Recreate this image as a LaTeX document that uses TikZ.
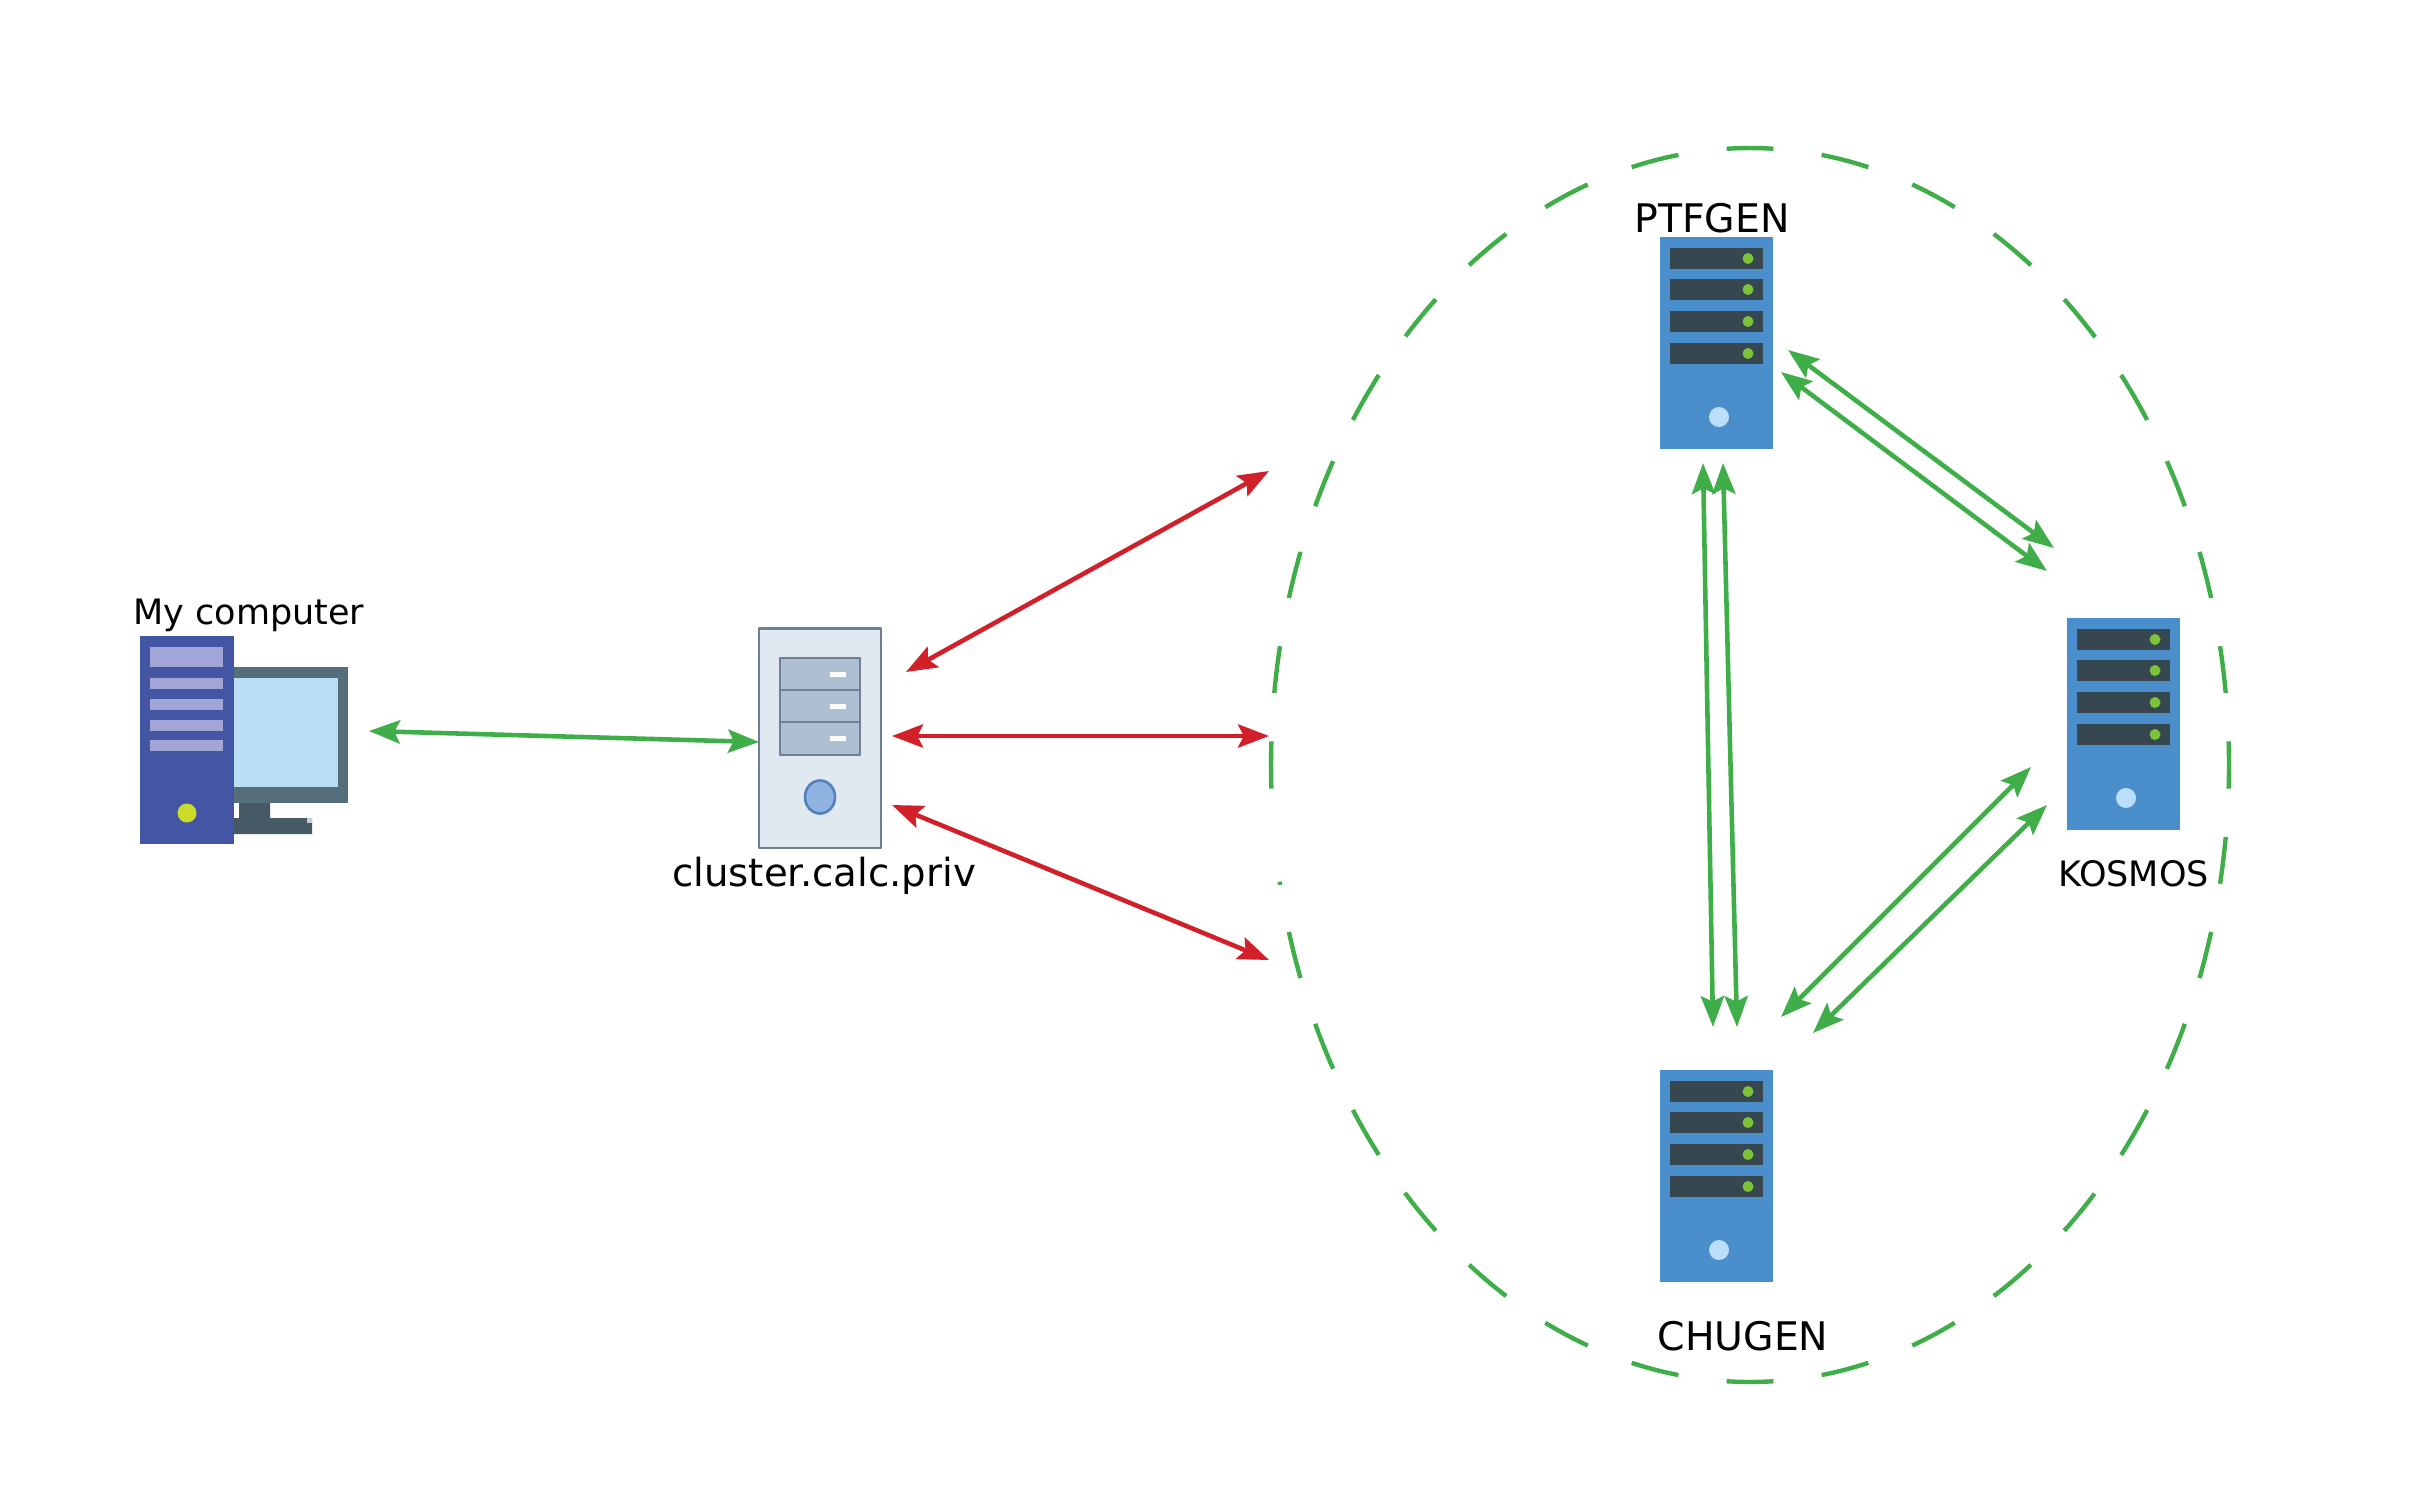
\documentclass[tikz,border=0pt]{standalone}
\usepackage{fontspec}
\setmainfont{DejaVu Sans}
\usetikzlibrary{arrows.meta}
\definecolor{netgreen}{HTML}{3FAE49}
\definecolor{netred}{HTML}{D2202A}
\definecolor{towerblue}{HTML}{4455A4}
\definecolor{towerpale}{HTML}{A2A6D6}
\definecolor{screenrim}{HTML}{546E7A}
\definecolor{screenblue}{HTML}{BBDEF5}
\definecolor{standgrey}{HTML}{455A64}
\definecolor{ledyellow}{HTML}{CBDB2A}
\definecolor{caseblue}{HTML}{E0E9F0}
\definecolor{caseline}{HTML}{6E7F96}
\definecolor{drawerblue}{HTML}{AEBFD2}
\definecolor{knobblue}{HTML}{8FB4E2}
\definecolor{knobline}{HTML}{5580BE}
\definecolor{rackblue}{HTML}{4A8ECB}
\definecolor{rackslot}{HTML}{37474F}
\definecolor{rackled}{HTML}{7CC23A}
\definecolor{rackknob}{HTML}{BBDEFB}
\tikzset{
	netlink/.style={line width=1.3pt, >={Stealth[length=8.8pt,width=6.6pt,inset=1.6pt]}, <->},
	ringdash/.style={netgreen, line width=1.25pt},
	biglabel/.style={inner sep=0pt, anchor=base, font=\fontsize{11pt}{13pt}\selectfont},
	capslabel/.style={inner sep=0pt, anchor=base, font=\fontsize{11.2pt}{13pt}\selectfont},
	smalllabel/.style={inner sep=0pt, anchor=base, font=\fontsize{9.95pt}{12pt}\selectfont},
	rackserver/.pic={
		\fill[rackblue] (0,0) rectangle (113,212);
		\foreach \y in {11,42,74,106}
			{\fill[rackslot] (10,\y) rectangle (103,\y+21);
			\fill[rackled] (88,\y+10.5) circle [radius=5.5];}
		\fill[rackknob] (59,180) circle [radius=10];
	}
}
\begin{document}
\begin{tikzpicture}[x=0.01cm, y=-0.01cm, line join=round]
	\useasboundingbox (0,0) rectangle (2421,1500);
	\path
	(1750,765) coordinate (ring)
	(369,731) coordinate (Mine)
	(759,742) coordinate (Calc)
	(906,672) coordinate (CalcA)
	(892,736) coordinate (CalcB)
	(892,805) coordinate (CalcC)
	(1269,471) coordinate (RingA)
	(1269,736) coordinate (RingB)
	(1269,960) coordinate (RingC)
	(1788,350) coordinate (PtfA)
	(1781,372) coordinate (PtfB)
	(2054,548) coordinate (KosA)
	(2047,571) coordinate (KosB)
	(1703,463) coordinate (PtfC)
	(1723,463) coordinate (PtfD)
	(1713,1027) coordinate (ChuC)
	(1737,1027) coordinate (ChuD)
	(2031,767) coordinate (KosC)
	(2047,805) coordinate (KosD)
	(1781,1017) coordinate (ChuA)
	(1813,1033) coordinate (ChuB)
	;
	% my computer
	\fill[screenrim] (234,667) rectangle (348,803);
	\fill[screenblue] (234,678) rectangle (338,787);
	\fill[standgrey] (239,803) rectangle (270,820) (234,818) rectangle (312,834);
	\fill[white!70!standgrey] (307,818) rectangle (312,823);
	\fill[towerblue] (140,636) rectangle (234,844);
	\fill[towerpale] (150,647) rectangle (223,667);
	\foreach \y in {678,699,720,740}
		{\fill[towerpale] (150,\y) rectangle (223,\y+10.5);}
	\fill[ledyellow] (187,813) circle [radius=9.5];
	\node[smalllabel] (mine) at (249,624.5) {My computer};
	% cluster
	\filldraw[fill=caseblue, draw=caseline, line width=0.75pt] (759,628.5) rectangle (881,848);
	\filldraw[fill=drawerblue, draw=caseline, line width=0.8pt] (780,658) rectangle (860,755) (780,690)--(860,690) (780,722)--(860,722);
	\foreach \y in {672,704,736}
		{\fill[white] (830,\y) rectangle (846,\y+5);}
	\filldraw[fill=knobblue, draw=knobline, line width=0.75pt] (820,797) ellipse [x radius=15, y radius=16.5];
	\node[biglabel] (calc) at (824,886) {cluster.calc.priv};
	% servers
	\pic at (1660,237) {rackserver};
	\pic at (2067,618) {rackserver};
	\pic at (1660,1070) {rackserver};
	\node[capslabel] (ptfgen) at (1712,232.5) {PTFGEN};
	\node[smalllabel] (kosmos) at (2133.5,886) {KOSMOS};
	\node[capslabel] (chugen) at (1743,1350.5) {CHUGEN};
	% dashed ring
	\foreach \a/\b in {-2.2/2.2,6.7/11.1,15.7/20.2,24.8/29.5,34/39.2,44/49,54.1/59.4,64.7/70.2,75.7/81.4,87.2/92.8,98.6/104.3,109.8/115.3,120.6/125.9,131/136.1,140.8/146,150.5/155.2,159.8/164.3,168.8/169.1,177.8/182.2,186.7/191.1,195.7/200.2,204.8/209.5,214/219.2,224/229,234.1/239.4,244.7/250.2,255.7/261.4,267.2/272.8,278.6/284.3,289.8/295.3,300.6/305.9,311/316.1,320.8/326,330.5/335.2,339.8/344.3,348.9/353.3}
		{\draw[ringdash] (ring) ++(\a:479 and 617) arc [start angle=\a, end angle=\b, x radius=479, y radius=617];}
	% links
	\foreach \p/\q in {Mine/Calc,PtfA/KosA,PtfB/KosB,PtfC/ChuC,PtfD/ChuD,KosC/ChuA,KosD/ChuB}
		{\draw[netlink, netgreen] (\p)--(\q);}
	\foreach \p/\q in {CalcA/RingA,CalcB/RingB,CalcC/RingC}
		{\draw[netlink, netred] (\p)--(\q);}
\end{tikzpicture}
\end{document}
